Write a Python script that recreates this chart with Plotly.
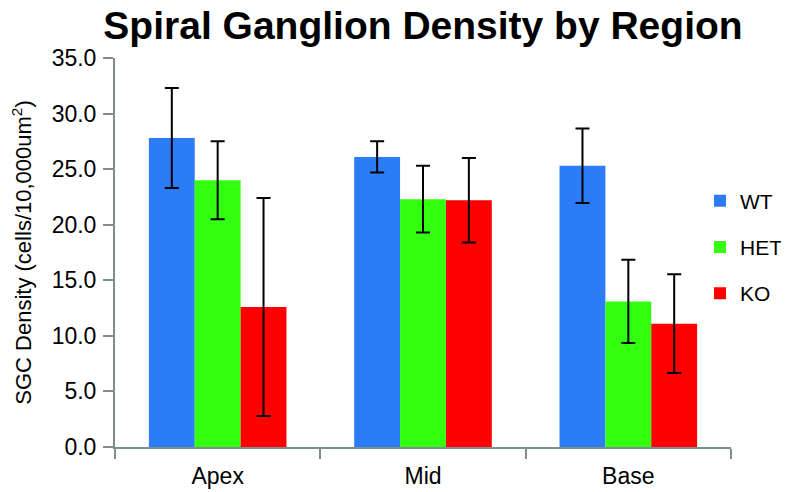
import plotly.graph_objects as go

regions = ["Apex", "Mid", "Base"]
wt = [27.8, 26.1, 25.3]
wt_err = [4.5, 1.4, 3.35]
het = [24.0, 22.3, 13.1]
het_err = [3.5, 3.0, 3.75]
ko = [12.6, 22.2, 11.1]
ko_err = [9.8, 3.8, 4.45]
y_ticks = [0, 5, 10, 15, 20, 25, 30, 35]

series = [
    ("WT", wt, wt_err, "#2B7CF6"),
    ("HET", het, het_err, "#33FF11"),
    ("KO", ko, ko_err, "#FF0000"),
]

fig = go.Figure()
for i, (name, vals, errs, color) in enumerate(series):
    fig.add_trace(go.Bar(
        x=regions, y=vals, name=name, legendgroup=name,
        marker=dict(color=color, line=dict(width=0)),
        error_y=dict(type="data", array=errs, visible=True,
                     color="black", thickness=2, width=7),
    ))

# page has an 8px body margin, so the figure is 781x484 drawn at (8, 8)
W, H = 781, 484
axis_color = "#7F8F8F"
fig.update_layout(
    width=W, height=H,
    margin=dict(l=107, r=58, t=50, b=45, autoexpand=False),
    paper_bgcolor="white", plot_bgcolor="white",
    font=dict(family="Liberation Sans, Arial, sans-serif", color="black", size=22),
    barmode="group", bargap=0.33, bargroupgap=0,
    title=dict(text="<b>Spiral Ganglion Density by Region</b>",
               font=dict(size=39, color="black"),
               x=0.5, xref="paper", xanchor="center",
               y=1 - 17 / H, yref="container", yanchor="middle"),
    showlegend=True,
    legend=dict(x=692 / W, xref="container", xanchor="left",
                y=1 - 239 / H, yref="container", yanchor="middle",
                font=dict(size=21), tracegroupgap=16,
                traceorder="grouped", bgcolor="rgba(0,0,0,0)"),
    xaxis=dict(showline=True, linecolor=axis_color, linewidth=2,
               ticks="outside", tickson="boundaries", ticklen=10,
               tickcolor=axis_color, tickwidth=2, showgrid=False,
               ticklabelstandoff=7,
               automargin=False, tickfont=dict(size=23)),
    yaxis=dict(range=[0, 35], tickvals=y_ticks, tickformat=".1f",
               showline=True, linecolor=axis_color, linewidth=2,
               ticks="outside", ticklen=10, tickcolor=axis_color, tickwidth=2,
               ticklabelstandoff=2, automargin=False,
               showgrid=False, zeroline=False, tickfont=dict(size=23),
               title=dict(text="SGC Density (cells/10,000um<sup>2</sup>)",
                          font=dict(size=22), standoff=16)),
)

fig.write_html("out.html")
